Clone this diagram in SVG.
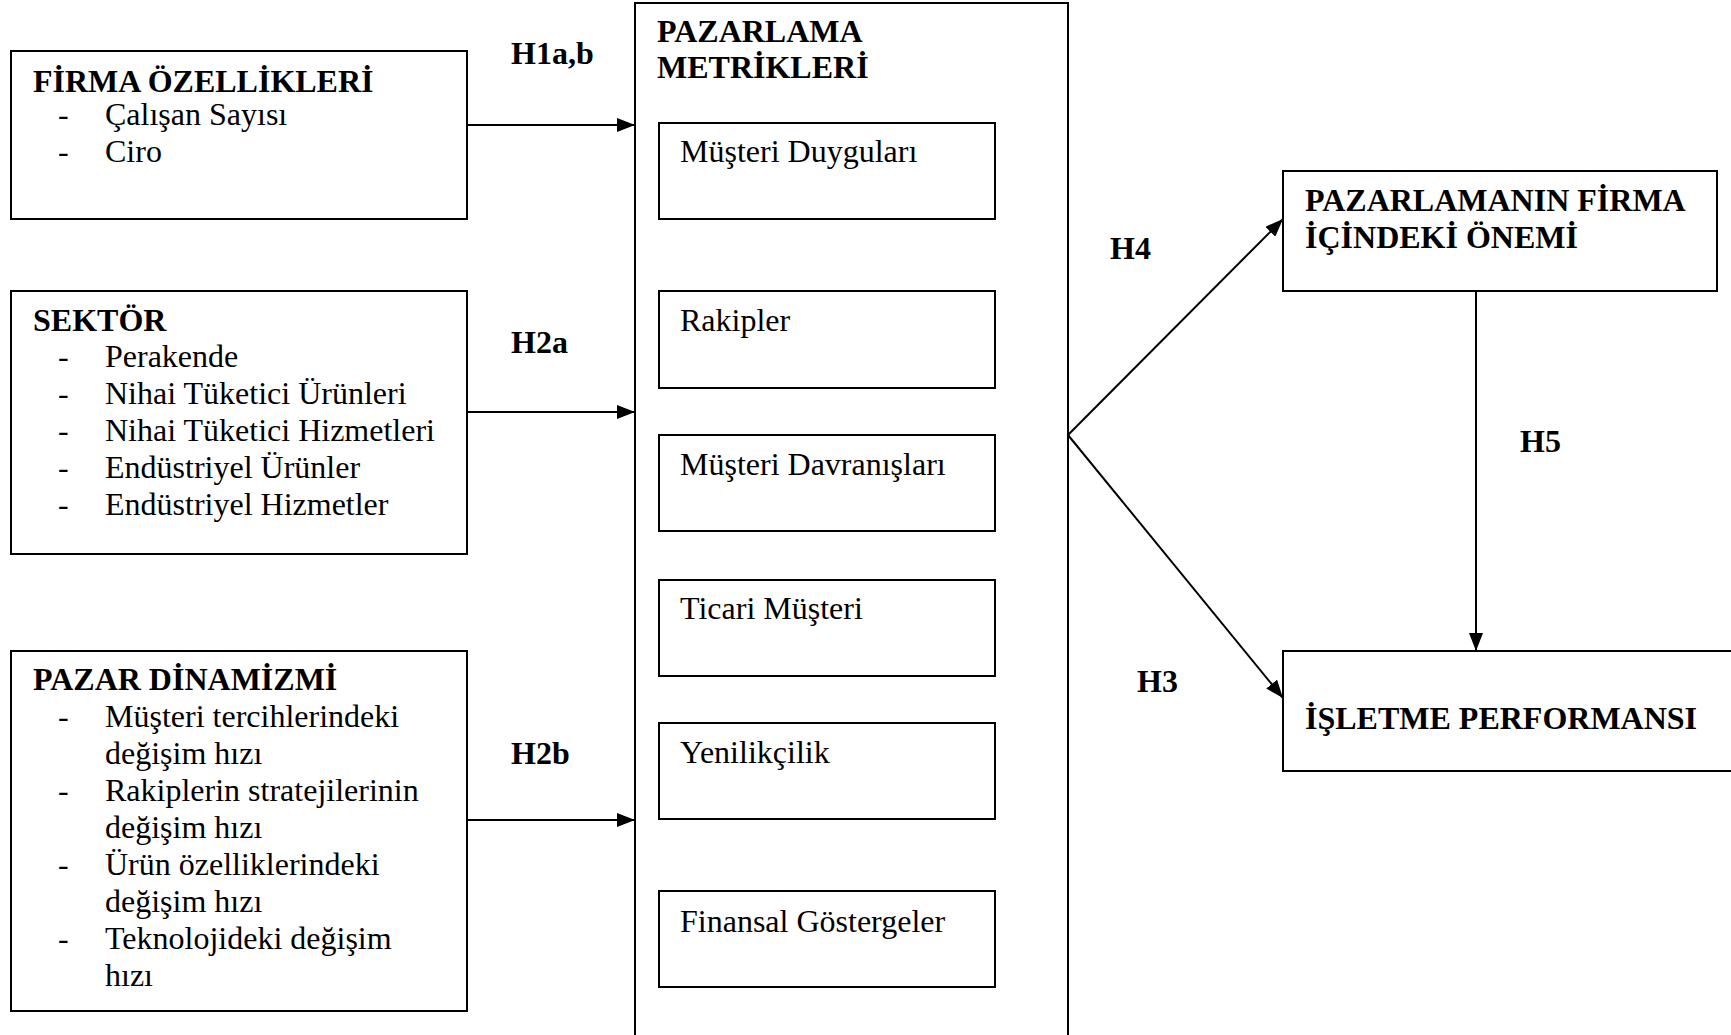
<svg xmlns="http://www.w3.org/2000/svg" width="1731" height="1035" viewBox="0 0 1731 1035">
<style>
text{font-family:"Liberation Serif","Times New Roman",serif;font-size:32px;fill:#000}
.b{font-weight:bold}
.box{fill:#fff;stroke:#000;stroke-width:2}
.c{stroke:#000;stroke-width:2;fill:none}
</style>
<defs>
<marker id="ah" markerUnits="userSpaceOnUse" markerWidth="20" markerHeight="14" refX="18" refY="7" orient="auto">
<path d="M0,0 L18,7 L0,14 Z" fill="#000"/>
</marker>
</defs>
<rect width="1731" height="1035" fill="#fff"/>
<g id="firma">
<rect class="box" x="11" y="51" width="456" height="168"/>
<text class="b" x="33" y="92">FİRMA ÖZELLİKLERİ</text>
<text x="58" y="125">-</text><text x="105" y="125">Çalışan Sayısı</text>
<text x="58" y="162">-</text><text x="105" y="162">Ciro</text>
</g>
<g id="sektor">
<rect class="box" x="11" y="291" width="456" height="263"/>
<text class="b" x="33" y="331">SEKTÖR</text>
<text x="58" y="367">-</text><text x="105" y="367">Perakende</text>
<text x="58" y="404">-</text><text x="105" y="404">Nihai Tüketici Ürünleri</text>
<text x="58" y="441">-</text><text x="105" y="441">Nihai Tüketici Hizmetleri</text>
<text x="58" y="478">-</text><text x="105" y="478">Endüstriyel Ürünler</text>
<text x="58" y="515">-</text><text x="105" y="515">Endüstriyel Hizmetler</text>
</g>
<g id="pazar">
<rect class="box" x="11" y="651" width="456" height="360"/>
<text class="b" x="33" y="690">PAZAR DİNAMİZMİ</text>
<text x="58" y="727">-</text><text x="105" y="727">Müşteri tercihlerindeki</text>
<text x="105" y="764">değişim hızı</text>
<text x="58" y="801">-</text><text x="105" y="801">Rakiplerin stratejilerinin</text>
<text x="105" y="838">değişim hızı</text>
<text x="58" y="875">-</text><text x="105" y="875">Ürün özelliklerindeki</text>
<text x="105" y="912">değişim hızı</text>
<text x="58" y="949">-</text><text x="105" y="949">Teknolojideki değişim</text>
<text x="105" y="986">hızı</text>
</g>
<g id="metrikler">
<rect class="box" x="635" y="3" width="433" height="1040"/>
<text class="b" x="657" y="42">PAZARLAMA</text>
<text class="b" x="657" y="78">METRİKLERİ</text>
</g>
<g id="m1"><rect class="box" x="659" y="123" width="336" height="96"/><text x="680" y="162">Müşteri Duyguları</text></g>
<g id="m2"><rect class="box" x="659" y="291" width="336" height="97"/><text x="680" y="331">Rakipler</text></g>
<g id="m3"><rect class="box" x="659" y="435" width="336" height="96"/><text x="680" y="475">Müşteri Davranışları</text></g>
<g id="m4"><rect class="box" x="659" y="580" width="336" height="96"/><text x="680" y="619">Ticari Müşteri</text></g>
<g id="m5"><rect class="box" x="659" y="723" width="336" height="96"/><text x="680" y="763">Yenilikçilik</text></g>
<g id="m6"><rect class="box" x="659" y="891" width="336" height="96"/><text x="680" y="932">Finansal Göstergeler</text></g>
<g id="onem">
<rect class="box" x="1283" y="171" width="434" height="120"/>
<text class="b" x="1305" y="211">PAZARLAMANIN FİRMA</text>
<text class="b" x="1305" y="248">İÇİNDEKİ ÖNEMİ</text>
</g>
<g id="performans">
<rect class="box" x="1283" y="651" width="460" height="120"/>
<text class="b" x="1305" y="729">İŞLETME PERFORMANSI</text>
</g>
<g id="connectors">
<line class="c" x1="467" y1="125" x2="635" y2="125" marker-end="url(#ah)"/>
<line class="c" x1="467" y1="412" x2="635" y2="412" marker-end="url(#ah)"/>
<line class="c" x1="467" y1="820" x2="635" y2="820" marker-end="url(#ah)"/>
<line class="c" x1="1068" y1="435" x2="1283" y2="219" marker-end="url(#ah)"/>
<line class="c" x1="1068" y1="435" x2="1283" y2="698" marker-end="url(#ah)"/>
<line class="c" x1="1476" y1="291" x2="1476" y2="651" marker-end="url(#ah)"/>
<text class="b" x="511" y="64">H1a,b</text>
<text class="b" x="511" y="353">H2a</text>
<text class="b" x="511" y="764">H2b</text>
<text class="b" x="1110" y="259">H4</text>
<text class="b" x="1137" y="692">H3</text>
<text class="b" x="1520" y="452">H5</text>
</g>
</svg>
